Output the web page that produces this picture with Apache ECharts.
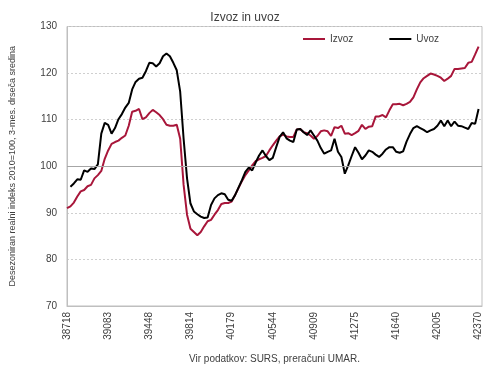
<!DOCTYPE html>
<html>
<head>
<meta charset="utf-8">
<script src="https://cdn.jsdelivr.net/npm/echarts@6/dist/echarts.min.js"></script>
<style>
html,body{margin:0;padding:0;background:#fff;}
#c{width:490px;height:369px;}
</style>
</head>
<body>
<div id="c"></div>
<script>
// Tick labels (Excel date serials, one per January)
var tickLabels = ['38718','39083','39448','39814','40179','40544','40909','41275','41640','42005','42370'];

// Monthly categories Jan 2006 .. Feb 2016 (last one empty, pads the axis)
var categories = [];
for (var y = 2006; y <= 2016; y++) {
  for (var m = 1; m <= 12; m++) {
    if (y === 2016 && m > 2) break;
    categories.push(y + '-' + (m < 10 ? '0' + m : m));
  }
}

var izvoz = [
  91.0, 91.4, 92.2, 93.5, 94.6, 94.9, 95.7, 96.0, 97.4, 98.1, 99.0, 101.6,
  103.4, 104.8, 105.2, 105.5, 106.1, 106.6, 108.7, 111.7, 111.9, 112.3, 110.1, 110.5,
  111.4, 112.1, 111.6, 111.0, 110.1, 108.9, 108.7, 108.7, 108.9, 105.9, 96.0, 89.6,
  86.6, 85.9, 85.2, 85.9, 87.1, 88.2, 88.5, 89.6, 90.6, 91.9, 92.1, 92.1,
  92.4, 93.8, 95.3, 96.8, 98.1, 99.1, 100.2, 101.1, 101.5, 101.8, 102.2, 103.4,
  104.5, 105.5, 106.4, 106.8, 106.4, 106.3, 106.3, 107.9, 108.0, 107.3, 107.1, 106.6,
  105.9, 106.5, 107.5, 107.7, 107.5, 106.5, 108.4, 108.2, 108.7, 107.0, 107.1, 106.7,
  107.1, 107.6, 108.9, 108.0, 108.5, 108.6, 110.7, 110.7, 111.0, 110.5, 112.0, 113.3,
  113.3, 113.4, 113.1, 113.4, 113.8, 114.8, 116.5, 118.0, 118.9, 119.4, 119.9, 119.7,
  119.4, 119.0, 118.3, 118.8, 119.4, 120.9, 120.9, 121.0, 121.1, 122.2, 122.4, 124.0,
  125.7
];

var uvoz = [
  null, 95.6, 96.3, 97.2, 97.1, 99.1, 98.8, 99.5, 99.4, 100.4, 107.0, 109.3,
  108.9, 107.0, 108.2, 110.1, 111.2, 112.6, 113.6, 116.5, 118.1, 118.8, 119.0, 120.4,
  122.2, 122.1, 121.4, 122.1, 123.6, 124.2, 123.6, 122.2, 120.6, 116.0, 105.9, 97.4,
  92.0, 90.3, 89.7, 89.2, 88.9, 89.0, 91.7, 93.1, 93.8, 94.2, 94.0, 92.8,
  92.6, 93.8, 95.4, 97.0, 98.8, 99.7, 99.1, 100.8, 102.3, 103.4, 102.2, 101.3,
  101.8, 104.1, 106.3, 107.3, 106.0, 105.5, 105.2, 107.9, 108.0, 107.3, 106.7, 107.7,
  106.6, 105.5, 103.9, 102.7, 103.1, 103.4, 105.9, 103.1, 102.0, 98.4, 100.2, 102.2,
  104.1, 102.9, 101.5, 102.3, 103.4, 103.1, 102.5, 102.0, 102.7, 103.6, 104.1, 104.1,
  103.1, 102.9, 103.2, 105.3, 106.9, 108.2, 108.6, 108.2, 107.8, 107.3, 107.7, 108.0,
  108.7, 109.8, 108.6, 109.8, 108.6, 109.6, 108.7, 108.6, 108.3, 108.0, 109.3, 109.1,
  112.3
];

var FONT = 'Liberation Sans';
var TXT = '#404040';
var RED = '#A8163A';

var chart = echarts.init(document.getElementById('c'), null, {renderer: 'canvas'});
chart.setOption({
  animation: false,
  backgroundColor: '#ffffff',
  textStyle: {fontFamily: FONT},
  title: {
    text: 'Izvoz in uvoz',
    left: 'center',
    top: 7,
    textStyle: {fontFamily: FONT, fontSize: 12, fontWeight: 'normal', color: TXT}
  },
  legend: {
    left: 298,
    top: 29,
    icon: 'rect',
    itemWidth: 22,
    itemHeight: 2,
    itemGap: 36,
    textStyle: {fontFamily: FONT, fontSize: 10, color: TXT},
    data: ['Izvoz', 'Uvoz']
  },
  grid: {
    left: 65.5,
    right: 8,
    top: 26.5,
    bottom: 59.5,
    show: true,
    borderColor: '#bfbfbf',
    borderWidth: 1
  },
  xAxis: {
    type: 'category',
    data: categories,
    boundaryGap: false,
    name: 'Vir podatkov: SURS, preračuni UMAR.',
    nameLocation: 'middle',
    nameGap: 48,
    nameTextStyle: {fontFamily: FONT, fontSize: 10, color: TXT},
    axisLine: {show: true, lineStyle: {color: '#bfbfbf'}},
    axisTick: {show: false},
    splitLine: {show: false},
    axisLabel: {
      interval: 11,
      rotate: 90,
      margin: 6,
      fontSize: 10,
      color: TXT,
      fontFamily: FONT,
      formatter: function (v, idx) { return tickLabels[Math.round(idx / 12)] || ''; }
    }
  },
  yAxis: {
    type: 'value',
    min: 70,
    max: 130,
    interval: 10,
    name: 'Desezoniran realni indeks 2010=100, 3-mes. drseča sredina',
    nameLocation: 'middle',
    nameGap: 50,
    nameTextStyle: {fontFamily: FONT, fontSize: 9, color: TXT},
    axisLine: {show: true, lineStyle: {color: '#bfbfbf'}},
    axisTick: {show: false},
    axisLabel: {fontSize: 10, color: TXT, fontFamily: FONT, margin: 10},
    splitLine: {show: true, lineStyle: {color: '#cfcfcf', type: [2, 2], width: 1}}
  },
  series: [
    {
      name: 'Izvoz',
      type: 'line',
      data: izvoz,
      symbol: 'none',
      showSymbol: false,
      lineStyle: {color: RED, width: 2},
      itemStyle: {color: RED},
      markLine: {
        silent: true,
        symbol: 'none',
        label: {show: false},
        lineStyle: {color: '#a6a6a6', type: 'solid', width: 1},
        data: [{yAxis: 100}]
      },
      z: 3
    },
    {
      name: 'Uvoz',
      type: 'line',
      data: uvoz,
      symbol: 'none',
      showSymbol: false,
      connectNulls: false,
      lineStyle: {color: '#000000', width: 2},
      itemStyle: {color: '#000000'},
      z: 4
    }
  ]
});
</script>
</body>
</html>
